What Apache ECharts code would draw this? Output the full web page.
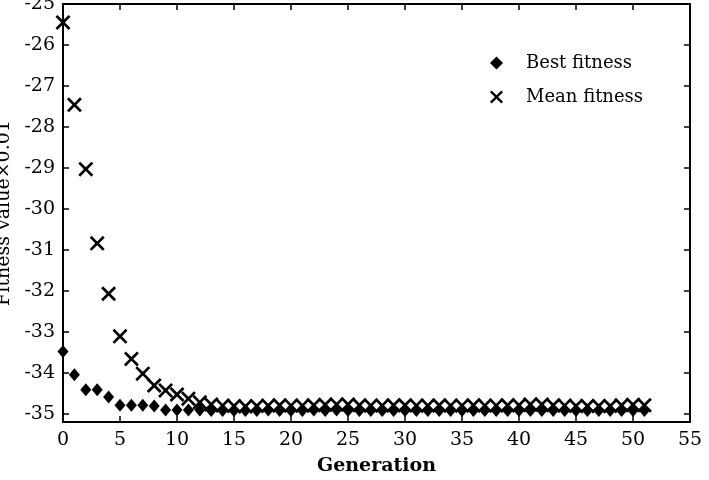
<!DOCTYPE html>
<html>
<head>
<meta charset="utf-8">
<script src="https://cdn.jsdelivr.net/npm/echarts@6/dist/echarts.min.js"></script>
<style>
  html, body { margin: 0; padding: 0; background: #fff; }
  #main { width: 709px; height: 480px; }
</style>
</head>
<body>
<div id="main"></div>
<script>
// generations 0..51
const generations = [];
for (let g = 0; g <= 51; g++) generations.push(g);

const bestFitness = [
  -33.48, -34.05, -34.41, -34.41, -34.59, -34.79, -34.79, -34.79, -34.81, -34.91,
  -34.91, -34.91, -34.91, -34.92, -34.92, -34.92, -34.92, -34.92, -34.91, -34.92,
  -34.92, -34.92, -34.91, -34.92, -34.91, -34.92, -34.92, -34.92, -34.92, -34.92,
  -34.92, -34.92, -34.92, -34.92, -34.92, -34.92, -34.92, -34.92, -34.92, -34.92,
  -34.92, -34.92, -34.92, -34.92, -34.92, -34.92, -34.92, -34.92, -34.92, -34.92,
  -34.92, -34.92
];

const meanFitness = [
  -25.45, -27.46, -29.03, -30.84, -32.07, -33.11, -33.66, -34.02, -34.31, -34.43,
  -34.53, -34.63, -34.72, -34.77, -34.8, -34.81, -34.82, -34.81, -34.8, -34.79,
  -34.8, -34.8, -34.79, -34.78, -34.77, -34.77, -34.79, -34.8, -34.8, -34.79,
  -34.79, -34.8, -34.8, -34.79, -34.8, -34.8, -34.79, -34.8, -34.8, -34.79,
  -34.79, -34.77, -34.77, -34.79, -34.8, -34.81, -34.81, -34.81, -34.81, -34.79,
  -34.78, -34.79
];

const xTicks = [0, 5, 10, 15, 20, 25, 30, 35, 40, 45, 50, 55];
const yTicks = [-35, -34, -33, -32, -31, -30, -29, -28, -27, -26, -25];

const serif = '"DejaVu Serif", "Liberation Serif", serif';
const crossPath = 'path://M0,1.8L1.8,0L7,5.2L12.2,0L14,1.8L8.8,7L14,12.2L12.2,14L7,8.8L1.8,14L0,12.2L5.2,7Z';

const axisBase = {
  axisLine: { show: true, onZero: false, lineStyle: { color: '#000', width: 2 } },
  axisTick: { show: true, inside: true, length: 6, lineStyle: { color: '#000', width: 1.5 } },
  splitLine: { show: false }
};

const chart = echarts.init(document.getElementById('main'));

chart.setOption({
  animation: false,
  backgroundColor: '#fff',
  grid: { left: 63, right: 19, top: 4, bottom: 58, containLabel: false, outerBoundsMode: 'none' },
  legend: {
    orient: 'vertical',
    left: 485,
    top: 49,
    itemWidth: 13,
    itemHeight: 13,
    itemGap: 16,
    textStyle: { fontFamily: serif, fontSize: 18, color: '#000', padding: [0, 0, 0, 18] },
    data: ['Best fitness', 'Mean fitness']
  },
  xAxis: [
    Object.assign({}, axisBase, {
      type: 'value', min: 0, max: 55, interval: 5, position: 'bottom',
      name: 'Generation', nameLocation: 'middle', nameGap: 35,
      nameTextStyle: { fontFamily: serif, fontSize: 19, color: '#000', fontWeight: 'bold' },
      axisLabel: { fontFamily: serif, fontSize: 19, color: '#000', margin: 9 }
    }),
    Object.assign({}, axisBase, {
      type: 'value', min: 0, max: 55, interval: 5, position: 'top',
      axisLabel: { show: false }
    })
  ],
  yAxis: [
    Object.assign({}, axisBase, {
      type: 'value', min: -35.2, max: -25, position: 'left',
      name: 'Fitness value×0.01', nameLocation: 'middle', nameGap: 47,
      nameRotate: 90,
      nameTextStyle: { fontFamily: serif, fontSize: 19, color: '#000' },
      axisTick: Object.assign({}, axisBase.axisTick, { customValues: yTicks }),
      axisLabel: { fontFamily: serif, fontSize: 19, color: '#000', margin: 8, customValues: yTicks }
    }),
    Object.assign({}, axisBase, {
      type: 'value', min: -35.2, max: -25, position: 'right',
      axisTick: Object.assign({}, axisBase.axisTick, { customValues: yTicks }),
      axisLabel: { show: false, customValues: yTicks }
    })
  ],
  series: [
    {
      name: 'Best fitness',
      type: 'scatter',
      symbol: 'diamond',
      symbolSize: [11, 13],
      itemStyle: { color: '#000', opacity: 1 },
      data: generations.map((g, i) => [g, bestFitness[i]])
    },
    {
      name: 'Mean fitness',
      type: 'scatter',
      symbol: crossPath,
      symbolSize: 15,
      itemStyle: { color: '#000', opacity: 1 },
      data: generations.map((g, i) => [g, meanFitness[i]])
    }
  ]
});
</script>
</body>
</html>
